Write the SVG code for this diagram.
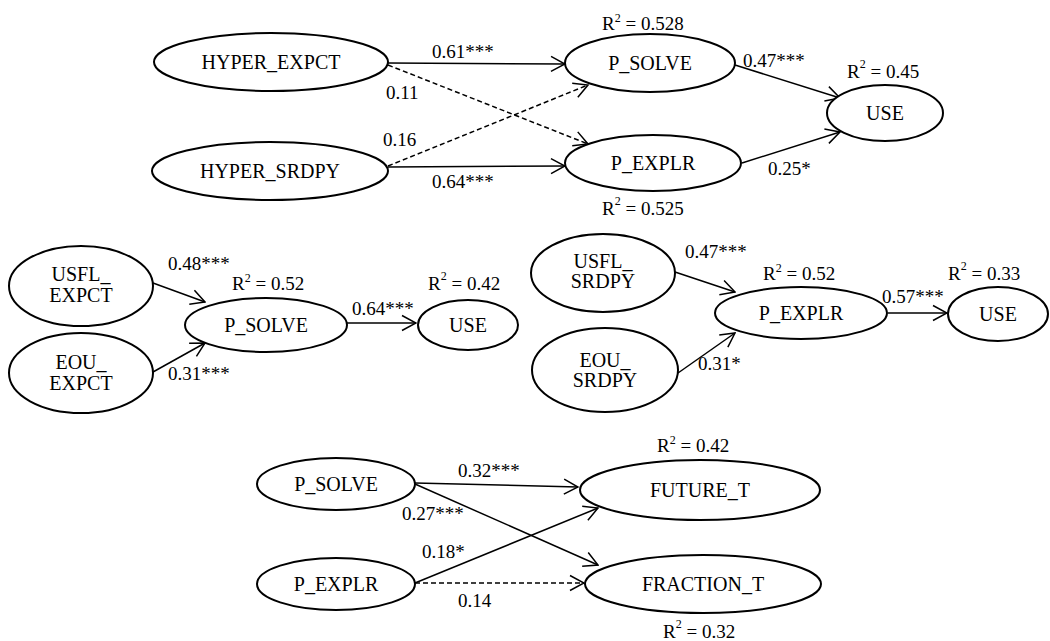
<svg xmlns="http://www.w3.org/2000/svg" width="1050" height="641" viewBox="0 0 1050 641">
<style>
.n ellipse{fill:#fff;stroke:#000;stroke-width:2}
.n text{font-family:"Liberation Serif","Times New Roman",serif;font-size:20px;text-anchor:middle;fill:#000}
.l{font-family:"Liberation Serif","Times New Roman",serif;font-size:19px;fill:#000}
.s{font-size:12px}
.e line{stroke:#000;stroke-width:1.5;fill:none;marker-end:url(#a)}
.e line.d{stroke-dasharray:5,3}
</style>
<defs>
<marker id="a" viewBox="0 0 16 18" refX="15" refY="9" markerWidth="16" markerHeight="18" orient="auto" markerUnits="userSpaceOnUse">
<path d="M1,1.5 L15,9 L1,16.5" fill="none" stroke="#000" stroke-width="1.5"/>
</marker>
</defs>
<rect width="1050" height="641" fill="#fff"/>
<g id="connectors" class="e">
<line x1="388" y1="63" x2="565" y2="64"/>
<line class="d" x1="388" y1="65" x2="588" y2="144"/>
<line class="d" x1="388" y1="166" x2="588" y2="85"/>
<line x1="388" y1="167" x2="565" y2="166"/>
<line x1="735" y1="65" x2="840" y2="98"/>
<line x1="742" y1="163" x2="840" y2="132"/>
<line x1="153" y1="283" x2="205" y2="302"/>
<line x1="153" y1="372" x2="205" y2="343"/>
<line x1="347" y1="323" x2="416" y2="323"/>
<line x1="675" y1="272" x2="735" y2="292"/>
<line x1="678" y1="373" x2="735" y2="333"/>
<line x1="888" y1="313" x2="947" y2="313"/>
<line x1="415" y1="483" x2="578" y2="487"/>
<line x1="415" y1="484" x2="598" y2="565"/>
<line x1="415" y1="583" x2="598" y2="508"/>
<line class="d" x1="415" y1="583" x2="584" y2="583"/>
</g>
<g id="hyper_expct" class="n"><ellipse cx="271" cy="62" rx="117" ry="29"/><text x="271" y="69">HYPER_EXPCT</text></g>
<g id="hyper_srdpy" class="n"><ellipse cx="270" cy="171" rx="118" ry="29"/><text x="270" y="178">HYPER_SRDPY</text></g>
<g id="p_solve_top" class="n"><ellipse cx="650" cy="63" rx="85" ry="29"/><text x="650" y="70">P_SOLVE</text></g>
<g id="p_explr_top" class="n"><ellipse cx="653" cy="163" rx="88" ry="28"/><text x="653" y="170">P_EXPLR</text></g>
<g id="use_top" class="n"><ellipse cx="885" cy="113" rx="58" ry="28"/><text x="885" y="120">USE</text></g>
<g id="usfl_expct" class="n"><ellipse cx="81" cy="286" rx="72" ry="40"/><text x="81" y="281">USFL_</text><text x="81" y="302">EXPCT</text></g>
<g id="eou_expct" class="n"><ellipse cx="81" cy="373" rx="72" ry="40"/><text x="81" y="369">EOU_</text><text x="81" y="390">EXPCT</text></g>
<g id="p_solve_mid" class="n"><ellipse cx="266" cy="325" rx="81" ry="27"/><text x="266" y="332">P_SOLVE</text></g>
<g id="use_mid_left" class="n"><ellipse cx="468" cy="325" rx="50" ry="25"/><text x="468" y="332">USE</text></g>
<g id="usfl_srdpy" class="n"><ellipse cx="603" cy="273" rx="72" ry="39"/><text x="603" y="268">USFL_</text><text x="603" y="288">SRDPY</text></g>
<g id="eou_srdpy" class="n"><ellipse cx="605" cy="370" rx="73" ry="42"/><text x="605" y="367">EOU_</text><text x="605" y="387">SRDPY</text></g>
<g id="p_explr_mid" class="n"><ellipse cx="801" cy="313" rx="86" ry="26"/><text x="801" y="320">P_EXPLR</text></g>
<g id="use_mid_right" class="n"><ellipse cx="998" cy="314" rx="50" ry="27"/><text x="998" y="321">USE</text></g>
<g id="p_solve_bot" class="n"><ellipse cx="336" cy="484" rx="79" ry="26"/><text x="336" y="491">P_SOLVE</text></g>
<g id="p_explr_bot" class="n"><ellipse cx="336" cy="584" rx="79" ry="26"/><text x="336" y="591">P_EXPLR</text></g>
<g id="future_t" class="n"><ellipse cx="700" cy="490" rx="120" ry="30"/><text x="700" y="497">FUTURE_T</text></g>
<g id="fraction_t" class="n"><ellipse cx="703" cy="584" rx="118" ry="29"/><text x="703" y="591">FRACTION_T</text></g>
<g id="labels">
<text class="l" x="432" y="58">0.61***</text>
<text class="l" x="386" y="99">0.11</text>
<text class="l" x="383" y="146">0.16</text>
<text class="l" x="432" y="188">0.64***</text>
<text class="l" x="602" y="30">R<tspan class="s" dy="-8">2</tspan><tspan dy="8"> = 0.528</tspan></text>
<text class="l" x="743" y="67">0.47***</text>
<text class="l" x="847" y="78">R<tspan class="s" dy="-10">2</tspan><tspan dy="10"> = 0.45</tspan></text>
<text class="l" x="768" y="175">0.25*</text>
<text class="l" x="602" y="215">R<tspan class="s" dy="-10">2</tspan><tspan dy="10"> = 0.525</tspan></text>
<text class="l" x="168" y="270">0.48***</text>
<text class="l" x="232" y="290">R<tspan class="s" dy="-8">2</tspan><tspan dy="8"> = 0.52</tspan></text>
<text class="l" x="352" y="315">0.64***</text>
<text class="l" x="428" y="290">R<tspan class="s" dy="-10">2</tspan><tspan dy="10"> = 0.42</tspan></text>
<text class="l" x="168" y="380">0.31***</text>
<text class="l" x="685" y="258">0.47***</text>
<text class="l" x="763" y="280">R<tspan class="s" dy="-8">2</tspan><tspan dy="8"> = 0.52</tspan></text>
<text class="l" x="882" y="303">0.57***</text>
<text class="l" x="948" y="280">R<tspan class="s" dy="-10">2</tspan><tspan dy="10"> = 0.33</tspan></text>
<text class="l" x="698" y="370">0.31*</text>
<text class="l" x="458" y="477">0.32***</text>
<text class="l" x="402" y="520">0.27***</text>
<text class="l" x="422" y="558">0.18*</text>
<text class="l" x="458" y="607">0.14</text>
<text class="l" x="657" y="452">R<tspan class="s" dy="-8">2</tspan><tspan dy="8"> = 0.42</tspan></text>
<text class="l" x="663" y="638">R<tspan class="s" dy="-10">2</tspan><tspan dy="10"> = 0.32</tspan></text>
</g>
</svg>
